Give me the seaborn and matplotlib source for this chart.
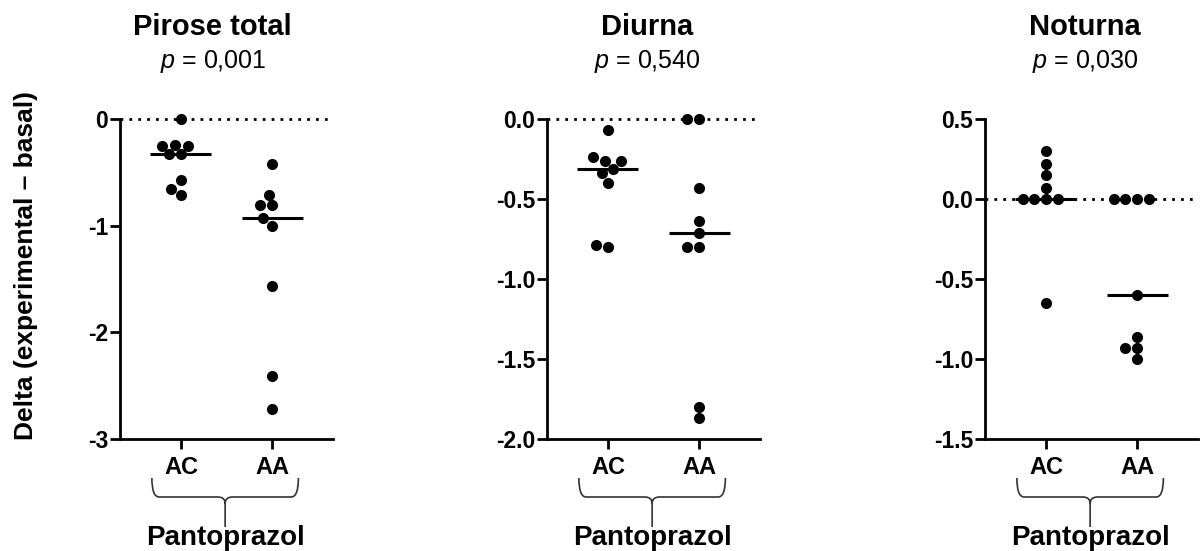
import matplotlib
matplotlib.use("Agg")
import matplotlib.pyplot as plt
import matplotlib.transforms as mtransforms
from matplotlib.path import Path
from matplotlib.patches import PathPatch
from matplotlib.ticker import FormatStrFormatter
import pandas as pd
import seaborn as sns

# ========== Dados ==========
grupos = ["AC", "AA"]

pirose_ac = [0.0, -0.25, -0.25, -0.24, -0.33, -0.33, -0.57, -0.66, -0.71]
pirose_aa = [-0.42, -0.71, -0.81, -0.81, -0.93, -1.00, -1.57, -2.41, -2.72]

diurna_ac = [-0.07, -0.24, -0.26, -0.26, -0.31, -0.34, -0.40, -0.79, -0.80]
diurna_aa = [0.0, 0.0, -0.43, -0.64, -0.71, -0.80, -0.80, -1.80, -1.87]

noturna_ac = [0.30, 0.22, 0.15, 0.07, 0.0, 0.0, 0.0, 0.0, -0.65]
noturna_aa = [0.0, 0.0, 0.0, 0.0, -0.60, -0.86, -0.93, -0.93, -1.00]

titulos = ["Pirose total", "Diurna", "Noturna"]
p_valores = ["0,001", "0,540", "0,030"]
limites_y = [(-3, 0), (-2, 0), (-1.5, 0.5)]
ticks_y = [[0, -1, -2, -3],
           [0.0, -0.5, -1.0, -1.5, -2.0],
           [0.5, 0.0, -0.5, -1.0, -1.5]]
formatos_y = ["%d", "%.1f", "%.1f"]


def monta_df(ac, aa):
    return pd.DataFrame({
        "grupo": ["AC"] * len(ac) + ["AA"] * len(aa),
        "delta": list(ac) + list(aa),
    })


paineis = [monta_df(pirose_ac, pirose_aa),
           monta_df(diurna_ac, diurna_aa),
           monta_df(noturna_ac, noturna_aa)]

# ========== Estilo ==========
sns.set_style("ticks")
plt.rcParams["font.family"] = ["Liberation Sans", "DejaVu Sans"]
plt.rcParams["axes.unicode_minus"] = False
plt.rcParams["mathtext.fontset"] = "custom"
plt.rcParams["mathtext.it"] = "Liberation Sans:italic:normal"
plt.rcParams["mathtext.rm"] = "Liberation Sans:normal"
for chave in ["text.color", "axes.labelcolor", "xtick.color",
              "ytick.color", "axes.edgecolor"]:
    plt.rcParams[chave] = "black"

fig = plt.figure(figsize=(12.03, 5.51), dpi=100)

esquerdas = [120 / 1203, 547 / 1203, 985 / 1203]
centro_titulo = [0.35, 0.43, 0.43]


def desenha_chave(ax, x0, x1, y_top, y_mid, y_stem):
    """Chave (brace) sob os rótulos AC / AA."""
    trans = mtransforms.blended_transform_factory(ax.transData, fig.transFigure)
    xc = (x0 + x1) / 2
    dx = 0.08
    dy = 0.012
    verts = [
        (x0, y_top), (x0, y_mid), (x0 + dx, y_mid),
        (xc - dx, y_mid), (xc, y_mid), (xc, y_mid - dy),
        (xc, y_stem),
        (x1, y_top), (x1, y_mid), (x1 - dx, y_mid),
        (xc + dx, y_mid), (xc, y_mid), (xc, y_mid - dy),
    ]
    codes = [
        Path.MOVETO, Path.CURVE3, Path.CURVE3,
        Path.LINETO, Path.CURVE3, Path.CURVE3,
        Path.LINETO,
        Path.MOVETO, Path.CURVE3, Path.CURVE3,
        Path.LINETO, Path.CURVE3, Path.CURVE3,
    ]
    patch = PathPatch(Path(verts, codes), transform=trans, fill=False,
                      edgecolor="#333333", linewidth=1.2, clip_on=False)
    ax.add_patch(patch)


for i, df in enumerate(paineis):
    ax = fig.add_axes([esquerdas[i], 1 - 439 / 551, 213 / 1203, 320 / 551])

    # Mediana como linha horizontal
    sns.boxplot(data=df, x="grupo", y="delta", order=grupos, ax=ax,
                showbox=False, showcaps=False, showfliers=False, whis=0,
                whiskerprops={"visible": False},
                medianprops={"color": "black", "linewidth": 2.2},
                width=0.67)
    sns.swarmplot(data=df, x="grupo", y="delta", order=grupos, ax=ax,
                  color="black", size=8, linewidth=0)
    for c in ax.collections:
        c.set_clip_on(False)
    for ln in ax.lines:
        ln.set_clip_on(False)

    ax.axhline(0, color="black", linewidth=2, linestyle=(0, (1, 2.2)),
               clip_on=False, zorder=0)

    ax.set_xlim(-0.67, 1.67)
    ax.set_ylim(*limites_y[i])
    ax.set_yticks(ticks_y[i])
    ax.yaxis.set_major_formatter(FormatStrFormatter(formatos_y[i]))
    ax.set_xlabel("")
    ax.set_ylabel("")

    for lado in ["top", "right"]:
        ax.spines[lado].set_visible(False)
    for lado in ["left", "bottom"]:
        ax.spines[lado].set_linewidth(2)
    ax.tick_params(axis="y", length=7, width=2, pad=1.5, labelsize=16.5)
    ax.tick_params(axis="x", length=7, width=2, pad=5, labelsize=17)
    for lbl in ax.get_xticklabels() + ax.get_yticklabels():
        lbl.set_fontweight("bold")

    # Título e valor de p
    tr = mtransforms.blended_transform_factory(ax.transData, fig.transFigure)
    ax.text(centro_titulo[i], 1 - 35 / 551, titulos[i], transform=tr,
            ha="center", va="baseline", fontsize=21, fontweight="bold")
    ax.text(centro_titulo[i], 1 - 68 / 551, "$p$ = " + p_valores[i],
            transform=tr, ha="center", va="baseline", fontsize=18,
            fontweight="normal")

    # Chave e rótulo do fármaco
    desenha_chave(ax, -0.32, 1.29, 1 - 478 / 551, 1 - 497 / 551, 1 - 527 / 551)
    ax.text(0.485, 1 - 545 / 551, "Pantoprazol", transform=tr,
            ha="center", va="baseline", fontsize=20, fontweight="bold")

fig.text(26 / 1203, 1 - 265 / 551, "Delta (experimental – basal)",
         rotation=90, ha="center", va="center", fontsize=19, fontweight="bold")

fig.savefig("out.png", dpi=100)
